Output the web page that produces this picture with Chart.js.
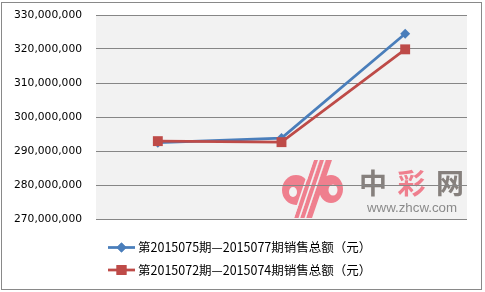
<!DOCTYPE html>
<html><head><meta charset="utf-8">
<script src="https://cdn.jsdelivr.net/npm/chart.js@4/dist/chart.umd.min.js"></script>
<style>html,body{margin:0;padding:0;background:#fff;} #wrap{width:485px;height:292px;position:relative;}</style>
</head><body><div id="wrap"><canvas id="c" width="485" height="292"></canvas></div>
<script>
const categories = ['1', '2', '3'];
const seriesNames = ['第2015075期—2015077期销售总额（元）', '第2015072期—2015074期销售总额（元）'];
const blueValues = [292450000, 293800000, 324500000];
const redValues = [292900000, 292600000, 319900000];
const yTicks = [270000000, 280000000, 290000000, 300000000, 310000000, 320000000, 330000000];
const seriesColors = ['#4A7EBB', '#BE4B48'];

const frame = {
  id: 'frame',
  beforeDraw(chart) {
    const ctx = chart.ctx, a = chart.chartArea;
    ctx.save();
    ctx.fillStyle = '#fff';
    ctx.fillRect(0, 0, chart.width, chart.height);
    ctx.strokeStyle = '#898989';
    ctx.lineWidth = 1;
    ctx.strokeRect(1.5, 2.5, 480, 287);
    ctx.fillStyle = '#F2F2F2';
    ctx.fillRect(a.left, a.top, a.right - a.left, a.bottom - a.top);
    // watermark logo
    const pink = '#EF7F8E';
    ctx.fillStyle = pink;
    ctx.beginPath(); ctx.ellipse(296, 190, 14, 15, 0, 0, Math.PI * 2); ctx.fill();
    ctx.beginPath(); ctx.ellipse(331, 189, 12, 14, 0, 0, Math.PI * 2); ctx.fill();
    for (let i = 0; i < 3; i++) {
      ctx.beginPath();
      ctx.moveTo(314 + 6 * i, 160); ctx.lineTo(320 + 6 * i, 160);
      ctx.lineTo(300 + 6 * i, 218); ctx.lineTo(294 + 6 * i, 218);
      ctx.closePath(); ctx.fill();
    }
    ctx.strokeStyle = '#F2F2F2';
    ctx.lineWidth = 1.6;
    for (let i = 0; i < 3; i++) {
      ctx.beginPath();
      ctx.moveTo(313.5 + 6 * i, 158); ctx.lineTo(293 + 6 * i, 219); ctx.stroke();
    }
    ctx.fillStyle = '#F2F2F2';
    ctx.beginPath(); ctx.ellipse(333, 190, 4.5, 5.5, 0, 0, Math.PI * 2); ctx.fill();
    ctx.beginPath(); ctx.ellipse(293, 192, 4, 5, 0, 0, Math.PI * 2); ctx.fill();
    ctx.font = 'bold 28px "Noto Sans CJK SC"';
    ctx.textAlign = 'center'; ctx.textBaseline = 'middle';
    ctx.fillStyle = '#86807D'; ctx.fillText('中', 373, 183);
    ctx.fillStyle = pink; ctx.fillText('彩', 411.5, 183);
    ctx.fillStyle = '#86807D'; ctx.fillText('网', 450, 183);
    ctx.font = '13.3px "Liberation Sans"';
    ctx.fillStyle = '#8A8A8A';
    ctx.fillText('www.zhcw.com', 412, 208);
    ctx.restore();
  },
  afterDraw(chart) {
    const ctx = chart.ctx;
    ctx.save();
    const rows = [247.5, 270];
    const styles = ['rectRot', 'rect'];
    const radii = [5, 7];
    rows.forEach((y, i) => {
      ctx.strokeStyle = seriesColors[i];
      ctx.lineWidth = 2.75;
      ctx.beginPath(); ctx.moveTo(108, y); ctx.lineTo(135, y); ctx.stroke();
      ctx.fillStyle = seriesColors[i];
      Chart.helpers.drawPoint(ctx, {pointStyle: styles[i], radius: radii[i], borderWidth: 0, rotation: 0}, 121.5, y);
      ctx.fill();
      ctx.fillStyle = '#000';
      ctx.font = '12.5px "Noto Sans CJK SC"';
      ctx.textAlign = 'left'; ctx.textBaseline = 'middle';
      ctx.fillText(seriesNames[i], 138, y);
    });
    ctx.restore();
  }
};

new Chart(document.getElementById('c'), {
  type: 'line',
  data: {
    labels: categories,
    datasets: [
      { label: seriesNames[1], data: redValues, borderColor: seriesColors[1], backgroundColor: seriesColors[1],
        borderWidth: 2.75, pointStyle: 'rect', pointRadius: 7, pointBorderWidth: 0, tension: 0 },
      { label: seriesNames[0], data: blueValues, borderColor: seriesColors[0], backgroundColor: seriesColors[0],
        borderWidth: 2.75, pointStyle: 'rectRot', pointRadius: 5, pointBorderWidth: 0, tension: 0 }
    ]
  },
  options: {
    responsive: false, animation: false, devicePixelRatio: 1,
    layout: { padding: { left: 0, right: 18, top: 15, bottom: 73 } },
    plugins: { legend: { display: false }, tooltip: { enabled: false } },
    scales: {
      x: { type: 'category', display: false, offset: true },
      y: {
        min: yTicks[0], max: yTicks[yTicks.length - 1],
        afterBuildTicks(s) { s.ticks = yTicks.map(v => ({ value: v })); },
        afterFit(s) { s.width = 96; s.paddingTop = 7; s.paddingBottom = 7; },
        ticks: { padding: 14, color: '#000', font: { family: 'DejaVu Sans', size: 10.7 },
          callback: v => v.toLocaleString('en-US') },
        grid: { color: '#868686', lineWidth: 1, drawTicks: false },
        border: { display: false }
      }
    }
  },
  plugins: [frame]
});
</script></body></html>
